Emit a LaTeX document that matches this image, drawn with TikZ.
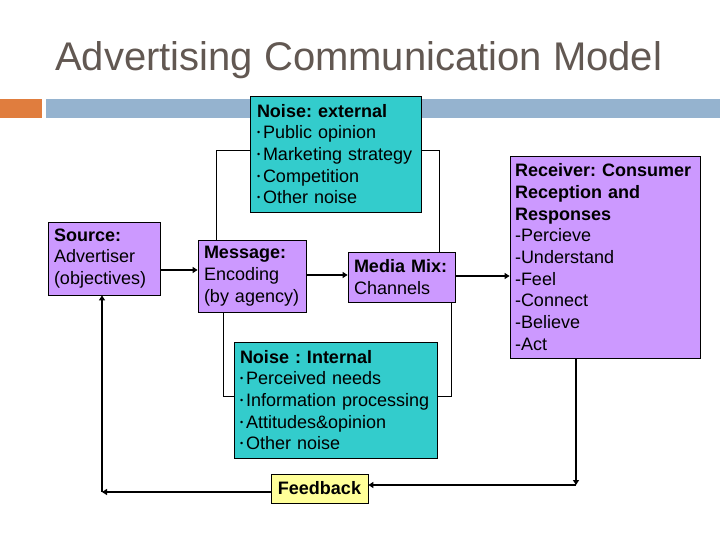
\documentclass[tikz,border=0pt]{standalone}
\usepackage{fontspec}
\setmainfont{Liberation Sans}
\usetikzlibrary{arrows.meta}
\frenchspacing
\hyphenpenalty=10000
\definecolor{purp}{HTML}{CC99FF}
\definecolor{teal2}{HTML}{33CCCC}
\definecolor{yell}{HTML}{FFFF99}
\definecolor{titlegray}{RGB}{98,88,82}
\definecolor{barorange}{RGB}{224,125,62}
\definecolor{barblue}{RGB}{149,179,207}
\newcommand\bul{\makebox[6pt][l]{\raisebox{3pt}{\fontsize{9}{9}\selectfont•}}}
\tikzset{
  box/.style={draw=black, line width=0.8pt, rectangle, align=left, inner ysep=0pt,
    font=\fontsize{18}{21.7}\selectfont},
  arr/.style={line width=2.4pt, -{Triangle[length=5pt,width=6pt]}},
  thin/.style={line width=1pt},
}
\begin{document}
\begin{tikzpicture}[x=1pt,y=-1pt]
\useasboundingbox (0,0) rectangle (720,540);
% header bars
\fill[barorange] (0,99) rectangle (42,118);
\fill[barblue] (46,99) rectangle (720,118);
% title
\node[anchor=base west, inner sep=0pt, text=titlegray, font=\fontsize{40}{44}\selectfont] (title) at (55,71) {Advertising Communication Model};
% coordinates for loops
\coordinate (ea) at (216,151);
\coordinate (eb) at (439,151);
\coordinate (ia) at (223,396);
\coordinate (ib) at (451,396);
\coordinate (fbr) at (576,485);
\coordinate (fbl) at (102,492);
% loops (thin lines), drawn first
\draw[thin] (ea |- 0,240) -- (ea) -- (250,151);
\draw[thin] (eb |- 0,252) -- (eb) -- (421,151);
\draw[thin] (ia |- 0,312) -- (ia) -- (234,396);
\draw[thin] (ib |- 0,302) -- (ib) -- (437,396);
% boxes
\node[box, fill=teal2, text width=157pt, inner xsep=7pt, minimum height=116pt] (next) at (335.5,154)
  {\textbf{Noise: external}\\\bul Public opinion\\\bul Marketing strategy\\\bul Competition\\\bul Other noise};
\node[box, fill=purp, text width=100pt, inner xsep=6pt, minimum height=73pt] (src) at (104,258.5)
  {\textbf{Source:}\\Advertiser\\(objectives)};
\node[box, fill=purp, text width=96pt, inner xsep=6pt, minimum height=72pt] (msg) at (252,276)
  {\textbf{Message:}\\Encoding\\(by agency)};
\node[box, fill=purp, text width=95pt, inner xsep=6pt, minimum height=50pt] (media) at (401.5,277)
  {\textbf{Media Mix:}\\Channels};
\node[box, fill=purp, text width=180pt, inner xsep=5pt, minimum height=202pt] (recv) at (605,257)
  {\textbf{Receiver: Consumer}\\\textbf{Reception and}\\\textbf{Responses}\\-Percieve\\-Understand\\-Feel\\-Connect\\-Believe\\-Act};
\node[box, fill=teal2, text width=191pt, inner xsep=6pt, minimum height=116pt] (nint) at (335.5,400)
  {\textbf{Noise : Internal}\\\bul Perceived needs\\\bul Information processing\\\bul Attitudes\&opinion\\\bul Other noise};
\node[box, fill=yell, align=center, minimum width=97pt, minimum height=29pt, inner xsep=0pt] (fb) at (319.5,488.5)
  {\textbf{Feedback}};
% main arrows
\draw[arr] (src.east |- 0,270) -- (msg.west |- 0,270);
\draw[arr] (msg.east |- 0,275) -- (media.west |- 0,275);
\draw[arr] (media.east |- 0,276) -- (recv.west |- 0,276);
% feedback
\draw[arr] (fbr |- recv.south) -- (fbr);
\draw[arr] (fbr) -- (fbr -| fb.east);
\draw[arr] (fb.west |- fbl) -- (fbl);
\draw[arr] (fbl) -- (fbl |- src.south);
\end{tikzpicture}
\end{document}
